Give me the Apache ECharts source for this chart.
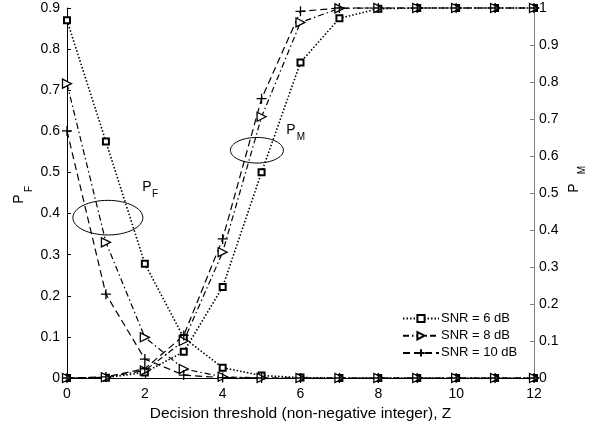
<!DOCTYPE html>
<html>
<head>
<meta charset="utf-8">
<script src="https://cdn.jsdelivr.net/npm/echarts@6/dist/echarts.min.js"></script>
<style>
html,body{margin:0;padding:0;background:#fff;}
#c{width:592px;height:432px;}
</style>
</head>
<body>
<div id="c"></div>
<script>
var zValues = [0,1,2,3,4,5,6,7,8,9,10,11,12];
var xTickLabels = ['0','2','4','6','8','10','12'];
var seriesNames = ['SNR = 6 dB','SNR = 8 dB','SNR = 10 dB'];
var pf6  = [0.870, 0.575, 0.278, 0.098, 0.025, 0.006, 0.001, 0, 0, 0, 0, 0, 0];
var pf8  = [0.716, 0.330, 0.099, 0.022, 0.003, 0, 0, 0, 0, 0, 0, 0, 0];
var pf10 = [0.601, 0.204, 0.046, 0.007, 0.001, 0, 0, 0, 0, 0, 0, 0, 0];
var pm6  = [0, 0.001, 0.015, 0.071, 0.246, 0.556, 0.853, 0.972, 0.998, 1, 1, 1, 1];
var pm8  = [0, 0.002, 0.020, 0.100, 0.340, 0.706, 0.961, 0.999, 1, 1, 1, 1, 1];
var pm10 = [0, 0.003, 0.025, 0.115, 0.376, 0.755, 0.991, 1, 1, 1, 1, 1, 1];
var ellipseCenters = [[1.05, 0.39], [4.88, 0.554]];

var FONT = "'Liberation Sans', Arial, Helvetica, sans-serif";
var chart = echarts.init(document.getElementById('c'), null, {renderer:'canvas'});

function pairs(v){ return zValues.map(function(z,i){ return [z, v[i]]; }); }

var styles = [
  {symbol:'rect', size:6, rotate:0, dash:[1.5,2], lw:1.6, bw:2},
  {symbol:'triangle', size:9, rotate:-90, dash:[6,3,1.5,3], lw:1.2, bw:1.3},
  {symbol:'path://M0,5L10,5M5,0L5,10', size:10, rotate:0, dash:[7,4], lw:1.2, bw:1.3}
];

function mkSeries(name, data, yIdx, st){
  var isPlus = st.symbol.indexOf('path://')===0;
  return {
    type:'line', name:name, yAxisIndex:yIdx, data:pairs(data),
    symbol:st.symbol, symbolSize:st.size, symbolRotate:st.rotate,
    showAllSymbol:true, clip:false, animation:false,
    lineStyle:{color:'#000', width:st.lw, type:st.dash},
    itemStyle:{color: isPlus ? 'none' : '#fff', borderColor:'#000', borderWidth:st.bw},
    emphasis:{disabled:true}
  };
}

var series = [
  mkSeries(seriesNames[0], pf6, 0, styles[0]),
  mkSeries(seriesNames[1], pf8, 0, styles[1]),
  mkSeries(seriesNames[2], pf10, 0, styles[2]),
  mkSeries(seriesNames[0], pm6, 1, styles[0]),
  mkSeries(seriesNames[1], pm8, 1, styles[1]),
  mkSeries(seriesNames[2], pm10, 1, styles[2]),
  {
    type:'custom', name:'ellipses', yAxisIndex:0, clip:false, animation:false,
    data: ellipseCenters,
    renderItem:function(params, api){
      var c = api.coord([api.value(0), api.value(1)]);
      var r = params.dataIndex===0 ? [35,17.3] : [26.5,12.8];
      return {type:'ellipse', shape:{cx:c[0], cy:c[1], rx:r[0], ry:r[1]},
              style:{fill:'none', stroke:'#000', lineWidth:1}};
    }
  }
];

var tickLabelSet = {};
xTickLabels.forEach(function(t){ tickLabelSet[t]=true; });

var option = {
  animation:false,
  backgroundColor:'#fff',
  grid:{left:67, right:58, top:8, bottom:54, containLabel:false},
  legend:{
    data:seriesNames, orient:'vertical', left:402, top:312,
    itemWidth:36, itemHeight:9, itemGap:4.2, padding:0,
    textStyle:{fontFamily:FONT, fontSize:13, color:'#000', padding:[0,0,0,-3]},
    selectedMode:false
  },
  xAxis:{
    type:'value', min:0, max:12, interval:2,
    axisLine:{show:true, onZero:false, lineStyle:{color:'#000', width:1}},
    axisTick:{show:true, inside:true, length:4, lineStyle:{color:'#000'}},
    splitLine:{show:false},
    axisLabel:{fontFamily:FONT, fontSize:14, color:'#000', margin:9,
      formatter:function(v){ var s=String(v); return tickLabelSet[s]?s:''; }},
    name:'Decision threshold (non-negative integer), Z',
    nameLocation:'middle', nameGap:28,
    nameTextStyle:{fontFamily:FONT, fontSize:15.5, color:'#000'}
  },
  yAxis:[
    {
      type:'value', min:0, max:0.9, interval:0.1, position:'left',
      axisLine:{show:true, onZero:false, lineStyle:{color:'#000', width:1}},
      axisTick:{show:true, inside:true, length:4, lineStyle:{color:'#000'}},
      splitLine:{show:false},
      axisLabel:{fontFamily:FONT, fontSize:14, color:'#000', margin:7,
        formatter:function(v){ return v===0?'0':(Math.round(v*10)/10).toString(); }}
    },
    {
      type:'value', min:0, max:1, interval:0.1, position:'right',
      axisLine:{show:true, onZero:false, lineStyle:{color:'#808080', width:1}},
      axisTick:{show:true, inside:true, length:4, lineStyle:{color:'#808080'}},
      splitLine:{show:false},
      axisLabel:{fontFamily:FONT, fontSize:14, color:'#000', margin:5,
        formatter:function(v){ return v===0?'0':(Math.round(v*10)/10).toString(); }}
    }
  ],
  series:series,
  graphic:[
    {type:'group', x:19, y:199, rotation:Math.PI/2, children:[
      {type:'text', x:0, y:0, style:{text:'P', font:'14px '+FONT, fill:'#000', align:'center', verticalAlign:'middle'}},
      {type:'text', x:10, y:10, style:{text:'F', font:'10px '+FONT, fill:'#000', align:'center', verticalAlign:'middle'}}
    ]},
    {type:'group', x:574, y:188, rotation:Math.PI/2, children:[
      {type:'text', x:0, y:0, style:{text:'P', font:'14px '+FONT, fill:'#000', align:'center', verticalAlign:'middle'}},
      {type:'text', x:18, y:8, style:{text:'M', font:'10px '+FONT, fill:'#000', align:'center', verticalAlign:'middle'}}
    ]},
    {type:'text', x:147, y:187, style:{text:'P', font:'14px '+FONT, fill:'#000', align:'center', verticalAlign:'middle'}},
    {type:'text', x:155, y:194, style:{text:'F', font:'10px '+FONT, fill:'#000', align:'center', verticalAlign:'middle'}},
    {type:'text', x:291, y:130, style:{text:'P', font:'14px '+FONT, fill:'#000', align:'center', verticalAlign:'middle'}},
    {type:'text', x:301, y:137, style:{text:'M', font:'10px '+FONT, fill:'#000', align:'center', verticalAlign:'middle'}}
  ]
};
chart.setOption(option);
</script>
</body>
</html>
